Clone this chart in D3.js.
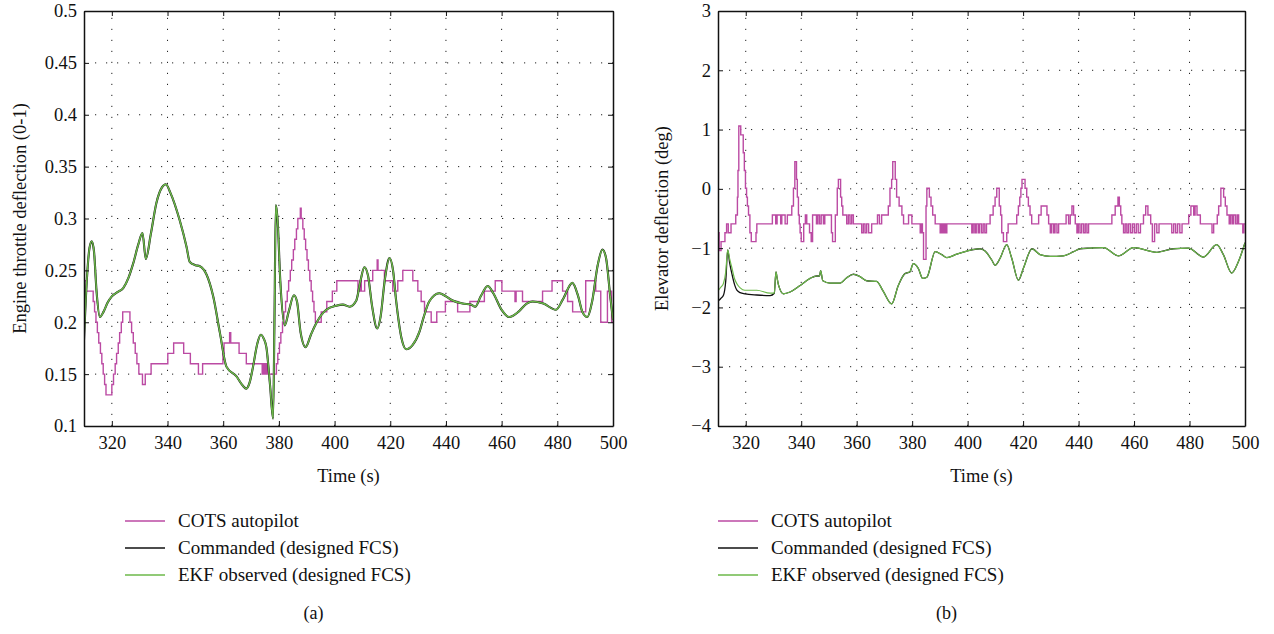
<!DOCTYPE html>
<html>
<head>
<meta charset="utf-8">
<script src="https://cdn.jsdelivr.net/npm/d3@7"></script>
<style>
  body { margin: 0; background: #fff; }
  svg text { font-family: "Liberation Serif", "Times New Roman", Times, "DejaVu Serif", serif; fill: #111; }
</style>
</head>
<body>
<svg id="chart"></svg>
<script>
// time axis shared by both panels
var xTicks = [320, 340, 360, 380, 400, 420, 440, 460, 480, 500];
var yTicksThrottle = [0.1, 0.15, 0.2, 0.25, 0.3, 0.35, 0.4, 0.45, 0.5];
var yTicksElevator = [-4, -3, -2, -1, 0, 1, 2, 3];
var seriesNames = ["COTS autopilot", "Commanded (designed FCS)", "EKF observed (designed FCS)"];

// (a) throttle, COTS autopilot: [time, value] at each step change
var throttleCots = [
  [310, 0.24], [310.8, 0.23], [313.3, 0.22], [313.8, 0.21], [314.3, 0.20], [314.8, 0.19],
  [315.3, 0.18], [315.9, 0.17], [316.4, 0.16], [316.9, 0.15], [317.4, 0.14], [317.9, 0.13],
  [320.0, 0.14], [320.6, 0.15], [321.2, 0.16], [321.7, 0.17], [322.3, 0.18], [322.8, 0.19],
  [323.4, 0.20], [323.9, 0.21], [326.5, 0.20], [327.1, 0.19], [327.7, 0.18], [328.4, 0.17],
  [329.0, 0.16], [329.7, 0.15], [331.0, 0.14], [332.0, 0.15], [334.1, 0.16], [340.1, 0.17],
  [342.2, 0.18], [345.8, 0.17], [348.2, 0.16], [351.1, 0.15], [352.6, 0.16], [359.9, 0.17],
  [360.3, 0.18], [362.3, 0.19], [362.7, 0.18], [365.7, 0.17], [368.3, 0.16], [374.0, 0.15],
  [374.5, 0.16], [375.0, 0.15], [375.5, 0.16], [376.0, 0.15], [379.1, 0.16], [379.6, 0.17],
  [380.2, 0.18], [380.7, 0.19], [381.3, 0.20], [381.8, 0.21], [382.4, 0.22], [383.0, 0.23],
  [383.5, 0.24], [384.1, 0.25], [384.6, 0.26], [385.2, 0.27], [385.7, 0.28], [386.3, 0.29],
  [386.8, 0.30], [387.7, 0.31], [388.0, 0.30], [388.6, 0.29], [389.1, 0.28], [389.6, 0.27],
  [390.1, 0.26], [390.6, 0.25], [391.1, 0.24], [391.6, 0.23], [392.1, 0.22], [392.6, 0.21],
  [393.1, 0.20], [395.2, 0.21], [397.2, 0.22], [399.2, 0.23], [400.8, 0.24], [408.4, 0.23],
  [409.2, 0.24], [409.6, 0.23], [410.8, 0.24], [413.7, 0.25], [415.3, 0.26], [415.6, 0.25],
  [417.9, 0.24], [420.9, 0.23], [422.7, 0.24], [424.5, 0.25], [428.1, 0.24], [429.9, 0.23],
  [431.1, 0.22], [432.3, 0.21], [434.7, 0.20], [436.7, 0.21], [439.8, 0.22], [444.2, 0.21],
  [448.6, 0.22], [453.8, 0.23], [457.7, 0.24], [460.1, 0.23], [464.8, 0.22], [465.2, 0.23],
  [467.5, 0.22], [474.7, 0.23], [478.1, 0.24], [481.9, 0.23], [483.7, 0.22], [485.5, 0.21],
  [490.2, 0.24], [493.8, 0.23], [495.6, 0.20], [498.0, 0.23], [499.5, 0.20], [500, 0.20]
];

// (a) throttle, designed FCS command (the EKF estimate lies on top of it)
var throttleCmd = [
  [310, 0.183], [311, 0.24], [312, 0.272], [312.8, 0.278], [313.6, 0.268], [314.5, 0.23],
  [315.7, 0.205], [317, 0.21], [318.5, 0.219], [320, 0.225], [322, 0.229], [324.1, 0.233],
  [326, 0.243], [327.7, 0.257], [329.5, 0.275], [331, 0.286], [332.2, 0.261], [334, 0.285],
  [336, 0.315], [338, 0.33], [339.4, 0.333], [341, 0.325], [344.4, 0.298], [346.8, 0.273],
  [348, 0.258], [350, 0.255], [351.6, 0.254], [354, 0.246], [356.4, 0.225], [358.8, 0.19],
  [361.2, 0.157], [364.7, 0.148], [367, 0.139], [368.3, 0.136], [369.5, 0.142], [370.7, 0.157],
  [372.3, 0.18], [373.5, 0.188], [374.6, 0.184], [375.5, 0.176], [376.8, 0.14], [377.9, 0.107],
  [378.4, 0.2], [378.9, 0.313], [379.5, 0.3], [380.5, 0.24], [382.1, 0.197], [383.5, 0.21],
  [385.4, 0.226], [386.5, 0.22], [387.8, 0.19], [389.6, 0.176], [391.5, 0.188], [393.4, 0.199],
  [397, 0.212], [400.6, 0.216], [403, 0.217], [405.4, 0.215], [407.8, 0.221], [409.3, 0.24],
  [410.7, 0.253], [412, 0.245], [413.5, 0.215], [415.3, 0.194], [416.5, 0.205], [418, 0.24],
  [419.7, 0.262], [421, 0.25], [422.1, 0.221], [424, 0.185], [425.7, 0.174], [428, 0.178],
  [430.5, 0.191], [432, 0.205], [434, 0.22], [437.6, 0.228], [440, 0.225], [442.4, 0.221],
  [446, 0.218], [449, 0.217], [450.5, 0.215], [452.5, 0.225], [455, 0.235], [457, 0.228],
  [460, 0.212], [462.7, 0.205], [466, 0.21], [469, 0.218], [471.1, 0.22], [475, 0.218],
  [479.5, 0.212], [482, 0.222], [485.4, 0.238], [487.5, 0.225], [489, 0.21], [490.8, 0.205],
  [492.5, 0.22], [494.5, 0.255], [496.2, 0.27], [497.5, 0.262], [499, 0.225], [500, 0.202]
];
var throttleEkf = throttleCmd;

// (b) elevator, COTS autopilot (quantised steps)
var elevatorCots = [
  [310, -0.74], [310.4, -1.04], [311.1, -0.89], [312.5, -0.74], [313.1, -0.59], [313.7, -0.74],
  [314.7, -0.59], [316.4, -0.44], [317.0, -0.14], [317.2, 0.31], [317.5, 1.06], [318.2, 0.91],
  [319.1, 0.61], [319.5, 0.31], [319.9, 0.01], [320.3, -0.14], [320.6, -0.29], [321.0, -0.44],
  [321.5, -0.74], [322.0, -0.89], [323.7, -0.74], [324.0, -0.59], [329.6, -0.44], [330.8, -0.59],
  [331.3, -0.44], [332.6, -0.59], [333.0, -0.44], [334.2, -0.59], [335.0, -0.44], [336.6, -0.29],
  [337.2, 0.01], [337.7, 0.46], [338.3, 0.16], [338.6, -0.14], [339.0, -0.44], [339.3, -0.59],
  [339.6, -0.74], [340.0, -0.89], [340.9, -0.59], [341.5, -0.44], [342.0, -0.59], [343.0, -0.74],
  [343.6, -0.89], [344.1, -0.44], [345.5, -0.59], [346.0, -0.44], [346.6, -0.59], [347.2, -0.44],
  [348.0, -0.59], [348.5, -0.44], [350.9, -0.74], [351.3, -0.89], [352.3, -0.44], [353.0, 0.01],
  [353.4, 0.16], [354.2, -0.14], [354.6, -0.29], [355.0, -0.44], [356.4, -0.59], [357.0, -0.44],
  [357.6, -0.59], [358.2, -0.44], [358.8, -0.59], [361.8, -0.74], [362.4, -0.59], [363.0, -0.74],
  [363.6, -0.59], [364.3, -0.74], [365.4, -0.59], [367.5, -0.44], [368.2, -0.59], [369.0, -0.44],
  [371.4, -0.29], [372.0, 0.01], [372.6, 0.16], [373.0, 0.46], [373.9, 0.16], [374.4, -0.14],
  [375.3, -0.29], [376.3, -0.44], [376.9, -0.59], [378.7, -0.44], [379.9, -0.59], [382.9, -0.74],
  [383.3, -0.59], [383.7, -0.74], [384.1, -1.19], [385.0, -0.29], [385.3, 0.01], [386.2, -0.14],
  [386.8, -0.29], [387.4, -0.44], [388.3, -0.59], [390.1, -0.74], [390.5, -0.59], [391.0, -0.74],
  [391.5, -0.59], [392.0, -0.74], [392.5, -0.59], [401.5, -0.74], [402.0, -0.59], [402.6, -0.74],
  [403.1, -0.59], [403.8, -0.74], [404.3, -0.59], [405.0, -0.74], [405.6, -0.59], [406.2, -0.74],
  [406.8, -0.59], [408.1, -0.44], [409.2, -0.29], [409.9, -0.14], [410.5, 0.01], [411.4, -0.29],
  [411.9, -0.44], [412.3, -0.74], [412.9, -0.89], [414.1, -0.74], [414.6, -0.59], [417.7, -0.44],
  [418.3, -0.29], [418.8, -0.14], [419.2, 0.01], [419.6, 0.16], [420.7, 0.01], [421.3, -0.14],
  [421.9, -0.29], [422.5, -0.44], [423.1, -0.59], [425.6, -0.44], [426.5, -0.29], [428.6, -0.44],
  [429.2, -0.59], [429.8, -0.74], [430.3, -0.59], [431.0, -0.74], [431.5, -0.59], [432.2, -0.74],
  [432.8, -0.59], [435.5, -0.44], [436.4, -0.59], [437.0, -0.44], [437.6, -0.29], [438.2, -0.44],
  [438.8, -0.59], [439.4, -0.74], [439.9, -0.59], [440.5, -0.74], [441.1, -0.59], [441.8, -0.74],
  [442.4, -0.59], [443.0, -0.74], [443.6, -0.59], [452.0, -0.44], [453.2, -0.29], [454.2, -0.14],
  [454.7, -0.29], [455.2, -0.44], [455.6, -0.59], [456.2, -0.74], [456.8, -0.59], [457.4, -0.74],
  [458.0, -0.59], [458.7, -0.74], [459.4, -0.59], [460.1, -0.74], [460.8, -0.59], [461.5, -0.74],
  [462.3, -0.59], [463.4, -0.44], [464.2, -0.29], [465.0, -0.44], [466.0, -0.59], [466.6, -0.89],
  [467.4, -0.59], [468.2, -0.74], [469.0, -0.59], [473.6, -0.74], [474.3, -0.59], [475.0, -0.74],
  [475.7, -0.59], [476.5, -0.74], [477.3, -0.59], [479.7, -0.44], [480.5, -0.29], [481.5, -0.44],
  [482.0, -0.29], [482.7, -0.44], [483.9, -0.59], [488.1, -0.74], [488.7, -0.59], [490.0, -0.44],
  [490.5, -0.29], [491.3, 0.01], [492.3, -0.14], [492.9, -0.29], [493.5, -0.44], [494.3, -0.59],
  [494.8, -0.44], [495.4, -0.59], [495.9, -0.44], [496.6, -0.59], [497.2, -0.44], [497.7, -0.59],
  [499.2, -0.74], [499.6, -0.59], [500, -0.59]
];

// (b) elevator, designed FCS command
var elevatorCmd = [
  [310, -1.89], [311, -1.85], [312, -1.79], [312.8, -1.55], [313.5, -1.03], [314.2, -1.25],
  [315, -1.43], [316, -1.62], [316.8, -1.71], [318, -1.75], [319.7, -1.77], [324, -1.79],
  [328.8, -1.80], [330.3, -1.76], [330.9, -1.40], [331.3, -1.50], [331.8, -1.62], [333.6, -1.77],
  [336, -1.74], [339.6, -1.63], [343.2, -1.51], [345.6, -1.47], [346.6, -1.47], [347.0, -1.38],
  [347.8, -1.55], [350.4, -1.59], [354, -1.59], [356.4, -1.50], [358.8, -1.44], [361.2, -1.48],
  [363.6, -1.55], [367.2, -1.56], [369.6, -1.73], [372.6, -1.94], [375.0, -1.63], [377.4, -1.43],
  [379.2, -1.40], [380.4, -1.26], [382.2, -1.34], [383.8, -1.51], [385.3, -1.49], [388.3, -1.06],
  [390.7, -1.11], [392.5, -1.16], [396.1, -1.10], [399.7, -1.05], [404.5, -1.01], [406.3, -1.05],
  [408.7, -1.20], [409.9, -1.29], [411.7, -1.17], [414.1, -0.94], [415.9, -1.17], [418.3, -1.54],
  [420.1, -1.34], [423.2, -1.01], [426.1, -1.11], [429.7, -1.14], [434.5, -1.13], [438.2, -1.06],
  [440.6, -1.01], [444.2, -1.00], [449.0, -0.99], [454.4, -1.13], [459.8, -0.99], [468.2, -1.07],
  [474.2, -1.01], [479.6, -1.00], [485.0, -1.15], [489.8, -0.94], [492.2, -1.11], [495.2, -1.42],
  [497.6, -1.23], [500.0, -0.91]
];

// (b) elevator, EKF observed: sits a little above the command during the first 20 s
var elevatorEkfStart = [
  [310, -1.72], [311, -1.66], [312, -1.59], [312.8, -1.40], [313.5, -1.03], [314.2, -1.18],
  [315, -1.33], [316, -1.52], [316.8, -1.60], [318, -1.67], [319.7, -1.71], [324, -1.71],
  [328.8, -1.76]
];
var elevatorEkf = elevatorEkfStart.concat(elevatorCmd.filter(function(d) { return d[0] > 330; }));

var W = 1274, H = 634;
var colors = { cots: "#bb4aa3", cmd: "#111111", ekf: "#6cb94a" };
var FONT = '"Liberation Serif", "Times New Roman", Times, "DejaVu Serif", serif';

var svg = d3.select("#chart").attr("width", W).attr("height", H);

function panel(o) {
  var x = d3.scaleLinear().domain([310, 500]).range([o.x0, o.x1]);
  var y = d3.scaleLinear().domain([o.yTicks[0], o.yTicks[o.yTicks.length - 1]]).range([426, 11]);
  var g = svg.append("g");

  // dotted grid
  g.selectAll(".gx").data(xTicks.slice(0, -1)).join("line")
    .attr("x1", function(d) { return x(d); }).attr("x2", function(d) { return x(d); })
    .attr("y1", 426).attr("y2", 11)
    .attr("stroke", "#222").attr("stroke-width", 1).attr("stroke-dasharray", "1.2,9.8");
  g.selectAll(".gy").data(o.yTicks.slice(1, -1)).join("line")
    .attr("x1", o.x0).attr("x2", o.x1)
    .attr("y1", function(d) { return y(d); }).attr("y2", function(d) { return y(d); })
    .attr("stroke", "#222").attr("stroke-width", 1).attr("stroke-dasharray", "1.2,9.8");

  var clipId = "clip" + o.id;
  svg.append("clipPath").attr("id", clipId).append("rect")
    .attr("x", o.x0).attr("y", 11).attr("width", o.x1 - o.x0).attr("height", 415);

  var lines = g.append("g").attr("clip-path", "url(#" + clipId + ")");
  var step = d3.line().x(function(d) { return x(d[0]); }).y(function(d) { return y(d[1]); })
    .curve(d3.curveStepAfter);
  var smooth = d3.line().x(function(d) { return x(d[0]); }).y(function(d) { return y(d[1]); })
    .curve(d3.curveMonotoneX);

  lines.append("path").attr("d", step(o.cots)).attr("fill", "none")
    .attr("stroke", colors.cots).attr("stroke-width", 1.4);
  lines.append("path").attr("d", smooth(o.cmd)).attr("fill", "none")
    .attr("stroke", colors.cmd).attr("stroke-width", o.cmdWidth);
  lines.append("path").attr("d", smooth(o.ekf)).attr("fill", "none")
    .attr("stroke", colors.ekf).attr("stroke-width", o.ekfWidth);

  // axes, ticks pointing inward
  var fmt = function(d) { return d < 0 ? "\u2212" + Math.abs(d) : String(d); };
  var ax = [
    g.append("g").attr("transform", "translate(0,426)")
      .call(d3.axisBottom(x).tickValues(xTicks).tickSizeInner(-5).tickSizeOuter(0).tickPadding(10)),
    g.append("g").attr("transform", "translate(" + o.x0 + ",0)")
      .call(d3.axisLeft(y).tickValues(o.yTicks).tickFormat(fmt).tickSizeInner(-5).tickSizeOuter(0).tickPadding(7)),
    g.append("g").attr("transform", "translate(0,11)")
      .call(d3.axisTop(x).tickValues(xTicks).tickFormat("").tickSizeInner(-5).tickSizeOuter(0)),
    g.append("g").attr("transform", "translate(" + o.x1 + ",0)")
      .call(d3.axisRight(y).tickValues(o.yTicks).tickFormat("").tickSizeInner(-5).tickSizeOuter(0))
  ];
  ax.forEach(function(a) {
    a.attr("font-family", null).attr("font-size", null);
    a.select(".domain").attr("stroke", "#111").attr("stroke-width", 1.5);
    a.selectAll(".tick line").attr("stroke", "#111").attr("stroke-width", 1);
    a.selectAll(".tick text").style("font-size", "18.5px").style("font-family", FONT).attr("fill", "#111");
  });

  var cx = (o.x0 + o.x1) / 2;
  g.append("text").attr("x", cx).attr("y", 482).attr("text-anchor", "middle")
    .style("font-size", "18.5px").text("Time (s)");
  g.append("text").attr("transform", "translate(" + o.yLabelX + ",218.5) rotate(-90)")
    .attr("text-anchor", "middle").style("font-size", "18.5px").text(o.yLabel);

  // legend
  var leg = g.append("g");
  var keys = ["cots", "cmd", "ekf"];
  keys.forEach(function(k, i) {
    var ly = 521 + i * 27;
    leg.append("line").attr("x1", o.legX).attr("x2", o.legX + 40).attr("y1", ly).attr("y2", ly)
      .attr("stroke", colors[k]).attr("stroke-width", 1.4);
    leg.append("text").attr("x", o.legX + 53).attr("y", ly + 6).style("font-size", "19px").text(seriesNames[i]);
  });
  g.append("text").attr("x", cx - 35).attr("y", 619).attr("text-anchor", "middle")
    .style("font-size", "18px").text(o.tag);
}

panel({ id: "a", x0: 84, x1: 613, yTicks: yTicksThrottle, cots: throttleCots, cmd: throttleCmd,
        ekf: throttleEkf, cmdWidth: 2.1, ekfWidth: 1.5, yLabel: "Engine throttle deflection (0-1)",
        yLabelX: 26, legX: 125, tag: "(a)" });
panel({ id: "b", x0: 718, x1: 1245, yTicks: yTicksElevator, cots: elevatorCots, cmd: elevatorCmd,
        ekf: elevatorEkf, cmdWidth: 1.3, ekfWidth: 1.2, yLabel: "Elevator deflection (deg)",
        yLabelX: 668, legX: 718, tag: "(b)" });
</script>
</body>
</html>
